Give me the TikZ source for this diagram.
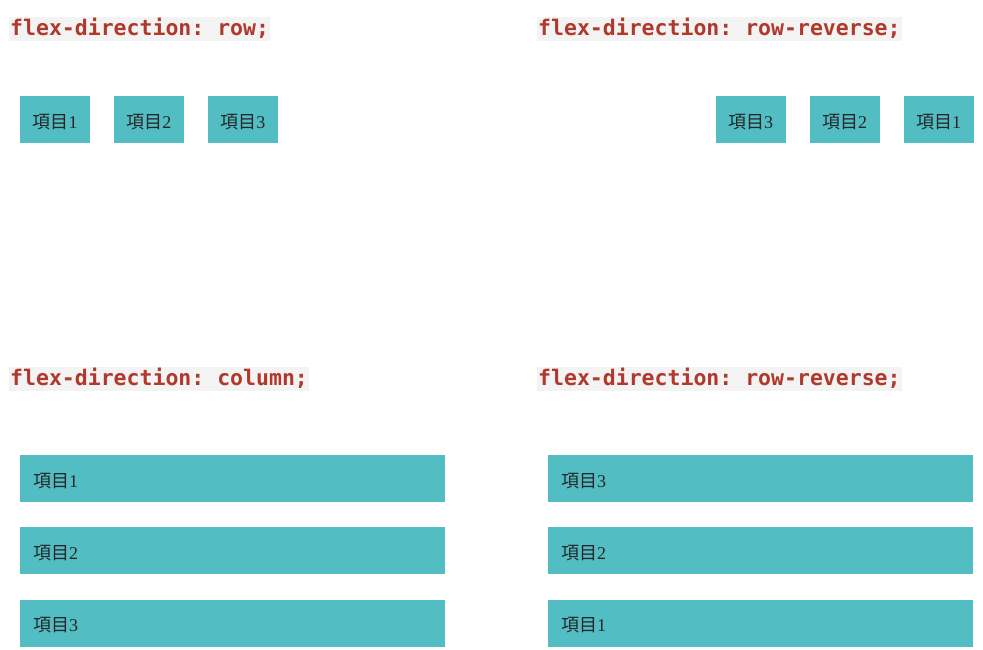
\documentclass[tikz,border=0pt]{standalone}
\usepackage{fontspec}
\setmainfont{Liberation Serif}
\setmonofont{DejaVu Sans Mono}
\newfontfamily\cjk{Noto Sans CJK TC}
\usepackage{xcolor}
\usetikzlibrary{positioning}
\definecolor{itemteal}{HTML}{52BEC4}
\definecolor{codered}{HTML}{B0392C}
\definecolor{codegray}{HTML}{F3F3F3}
\tikzset{code/.style={fill=codegray, text=codered, font=\ttfamily\bfseries\fontsize{21.5}{24}\selectfont, inner sep=0pt, inner xsep=1pt, text height=18pt, text depth=6pt, anchor=base west}}
\tikzset{item/.style={fill=itemteal, text=black!85, font=\fontsize{18}{20}\selectfont, minimum width=70pt, minimum height=47pt, inner sep=0pt, text height=17pt, text depth=0pt}}
\tikzset{bar/.style={item, minimum width=425pt, text width=399pt, align=left}}
\newcommand{\xiangmu}[1]{{\cjk 項目}#1}

\begin{document}
\begin{tikzpicture}[x=1pt,y=-1pt,node distance=23.5pt]
{
\useasboundingbox (0,0) rectangle (983,649);
\node[code] (rowcode) at (9,35) {flex-direction: row;};
\node[code] (revcode) at (537,35) {flex-direction: row-reverse;};
\node[code] (colcode) at (9,385) {flex-direction: column;};
\node[code] (colrevcode) at (537,385) {flex-direction: row-reverse;};
\node[item] (rowa) at (55,119.5) {\xiangmu{1}};
\node[item, right=of rowa] (rowb) {\xiangmu{2}};
\node[item, right=of rowb] (rowc) {\xiangmu{3}};
\node[item] (reva) at (938.5,119.5) {\xiangmu{1}};
\node[item, left=of reva] (revb) {\xiangmu{2}};
\node[item, left=of revb] (revc) {\xiangmu{3}};
\node[bar] (cola) at (232.5,478.5) {\xiangmu{1}};
\node[bar, below=25pt of cola] (colb) {\xiangmu{2}};
\node[bar, below=25pt of colb] (colc) {\xiangmu{3}};
\node[bar] (colrevc) at (760.5,478.5) {\xiangmu{3}};
\node[bar, below=25pt of colrevc] (colrevb) {\xiangmu{2}};
\node[bar, below=25pt of colrevb] (colreva) {\xiangmu{1}};
}
\end{tikzpicture}
\end{document}
